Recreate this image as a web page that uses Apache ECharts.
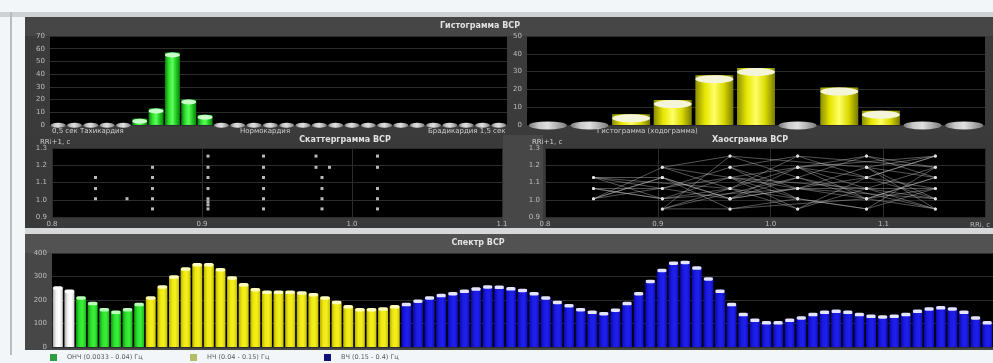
<!DOCTYPE html>
<html>
<head>
<meta charset="utf-8">
<title>Анализ ВСР</title>
<script src="https://cdn.jsdelivr.net/npm/echarts@6/dist/echarts.min.js"></script>
<style>
html,body{margin:0;padding:0;background:#f3f6f8;}
#chart{width:993px;height:363px;}
</style>
</head>
<body>
<div id="chart"></div>
<script>
// ---------- Гистограмма ВСР (слева): интервалы RR, мс
const histLeftBins = ['500','536','571','607','643','679','714','750','786','821','857','893','929','964',
  '1000','1036','1071','1107','1143','1179','1214','1250','1286','1321','1357','1393','1429','1464'];
const histLeftCounts = [0,0,0,0,0,5,13,57,20,8,0,0,0,0,0,0,0,0,0,0,0,0,0,0,0,0,0,0];
const histLeftYTicks = [0,10,20,30,40,50,60,70];
const histLeftNotes = ['0,5 сек Тахикардия','Нормокардия','Брадикардия 1,5 сек'];

// ---------- Гистограмма ВСР (справа)
const histRightBins = ['800','840','880','920','960','1000','1040','1080','1120','1160','1200'];
const histRightCounts = [0,0,6,14,28,32,0,21,8,0,0];
const histRightYTicks = [0,10,20,30,40,50];

// ---------- Скаттерграмма ВСР: пары [RRi, RRi+1], с
const scatterPoints = [
  [0.829,1.129],[0.829,1.065],[0.829,1.006],
  [0.850,1.006],
  [0.867,1.188],[0.867,1.129],[0.867,1.065],[0.867,1.006],[0.867,0.947],
  [0.904,1.253],[0.904,1.188],[0.904,1.129],[0.904,1.065],[0.904,1.006],[0.904,0.988],[0.904,0.970],[0.904,0.947],
  [0.941,1.253],[0.941,1.188],[0.941,1.129],[0.941,1.065],[0.941,1.006],[0.941,0.947],
  [0.976,1.253],[0.976,1.188],[0.985,1.188],[0.980,1.129],[0.980,1.065],[0.980,1.006],[0.980,0.947],
  [1.017,1.253],[1.017,1.188],[1.017,1.065],[1.017,1.006],[1.017,0.947]
];
const scatterXTicks = [0.8,0.9,1.0,1.1];
const scatterYTicks = [0.9,1.0,1.1,1.2,1.3];

// ---------- Хаосграмма ВСР: последовательность точек
const chaosPath = [
  [0.843,1.065],[0.904,1.006],[0.964,1.129],[1.024,1.065],[1.085,1.188],[1.146,1.129],
  [1.085,1.006],[1.024,1.188],[0.964,1.006],[0.904,1.129],[0.843,1.006],[0.904,1.188],
  [0.964,1.253],[1.024,1.129],[1.085,1.253],[1.146,1.188],[1.085,1.065],[1.024,0.947],
  [0.964,1.065],[0.904,0.947],[0.964,0.947],[1.024,1.006],[1.085,0.947],[1.146,1.065],
  [1.085,1.129],[1.024,1.253],[0.964,1.188],[0.904,1.065],[0.843,1.129],[0.904,1.129],
  [0.964,1.006],[1.024,1.129],[1.085,1.006],[1.146,0.947],[1.085,1.188],[1.146,1.253],
  [1.085,1.129],[1.146,1.006],[1.085,1.065],[1.024,1.188],[0.964,1.129],[1.024,1.006],
  [0.964,1.065],[0.904,1.006],[0.843,1.065],[0.904,1.065],[0.964,1.006],[1.024,1.065],
  [1.085,1.006],[1.146,1.129],[1.085,1.253],[1.024,1.188],[1.085,1.129],[1.024,0.947],
  [0.964,1.129],[0.904,1.188],[0.964,1.065],[1.024,1.253],[1.146,1.188],[1.085,0.947],
  [1.024,1.006],[0.964,1.188],[1.024,1.065],[1.146,1.065],[1.085,1.006],[0.964,0.947],
  [0.904,1.129],[0.843,1.006],[0.964,1.129],[1.085,1.065],[1.146,0.947],[1.024,1.129],
  [0.904,0.947],[0.964,1.253],[1.085,1.188],[1.146,1.006],[1.024,1.065],[0.904,1.006],
  [0.843,1.129],[0.964,1.065],[1.024,1.188],[1.146,1.253],[1.085,1.129],[0.964,1.006]
];
const chaosXTicks = [0.8,0.9,1.0,1.1];
const chaosXMax = 1.19;

// ---------- Спектр ВСР: мощность по полосам
const spectrumUlf = [254,240];
const spectrumVlf = [212,188,162,151,162,184];
const spectrumLf = [212,259,301,335,353,353,332,297,268,247,236,236,236,233,226,212,193,174,162,162,165,174];
const spectrumHf = [184,198,212,222,230,240,250,259,257,251,244,230,212,193,179,162,151,145,160,188,
  230,282,329,360,363,339,293,240,184,141,117,106,106,117,127,141,151,155,151,141,
  134,131,134,141,155,165,170,165,151,127,106];
const spectrumYTicks = [0,100,200,300,400];
const bandNames = ['ОНЧ (0.0033 - 0.04) Гц','НЧ (0.04 - 0.15) Гц','ВЧ (0.15 - 0.4) Гц'];

// ---------- вспомогательное
const FONT = 'DejaVu Sans, Verdana, sans-serif';
const LABEL = '#bdbdbd';
const SPLIT = '#2c2c2c';

function hGrad(stops) {
  return { type: 'linear', x: 0, y: 0, x2: 1, y2: 0,
    colorStops: stops.map((c, i) => ({ offset: i / (stops.length - 1), color: c })) };
}
const greenCyl = hGrad(['#0b7a0b','#2fe02f','#5cff5c','#20c820','#0a800a']);
const yellowCyl = hGrad(['#8c8c00','#e6e600','#ffff66','#d9d900','#7a7a00']);
const grayCap = hGrad(['#7a7a7a','#c8c8c8','#e0e0e0','#b0b0b0','#7a7a7a']);

function yAxisCfg(grid, ticks, digits) {
  return {
    type: 'value', gridIndex: grid,
    min: ticks[0], max: ticks[ticks.length - 1], interval: ticks[1] - ticks[0],
    axisLine: { show: false }, axisTick: { show: false },
    splitLine: { show: true, lineStyle: { color: SPLIT, width: 1 } },
    axisLabel: { color: LABEL, fontSize: 7, fontFamily: FONT, margin: 5,
      formatter: v => digits ? v.toFixed(digits) : String(v) }
  };
}
function catAxis(grid, data) {
  return { type: 'category', gridIndex: grid, data: data,
    axisLine: { show: false }, axisTick: { show: false }, axisLabel: { show: false },
    splitLine: { show: false } };
}
function valXAxis(grid, ticks, max) {
  return {
    type: 'value', gridIndex: grid,
    min: ticks[0], max: max, interval: ticks[1] - ticks[0],
    axisLine: { show: false }, axisTick: { show: false },
    splitLine: { show: true, lineStyle: { color: SPLIT } },
    axisLabel: { color: LABEL, fontSize: 7, fontFamily: FONT, margin: 4,
      showMaxLabel: max === ticks[ticks.length - 1],
      formatter: v => v.toFixed(1) }
  };
}

// колонки гистограмм: корпус + верхняя крышка
function histSeries(axis, counts, barW, capH, body, capColor) {
  return [
    { type: 'bar', xAxisIndex: axis, yAxisIndex: axis, data: counts, barWidth: barW,
      itemStyle: { color: body }, z: 3, silent: true },
    { type: 'pictorialBar', xAxisIndex: axis, yAxisIndex: axis, symbol: 'circle',
      symbolPosition: 'end', z: 4, silent: true,
      data: counts.map(v => ({
        value: v,
        symbolSize: [barW, capH],
        symbolOffset: v === 0 ? [0, '-45%'] : [0, 0],
        itemStyle: { color: v === 0 ? grayCap : capColor }
      })) }
  ];
}

// полосы спектра на общей оси частот
const spectrumAll = spectrumUlf.concat(spectrumVlf, spectrumLf, spectrumHf);
const spectrumCats = spectrumAll.map((_, i) => String(i + 1));
const bands = [
  { name: 'УНЧ', values: spectrumUlf, body: hGrad(['#a8a8a8','#f4f4f4','#ffffff','#d0d0d0']), cap: '#ffffff' },
  { name: bandNames[0], values: spectrumVlf, body: hGrad(['#0c9a0c','#30e030','#3cf03c','#18b818']), cap: '#b8ffb8' },
  { name: bandNames[1], values: spectrumLf, body: hGrad(['#b8b000','#f0ea10','#f4ee20','#c8c000']), cap: '#fffcc0' },
  { name: bandNames[2], values: spectrumHf, body: hGrad(['#0808b0','#1a1ae0','#2020ee','#0c0cc0']), cap: '#e4e4ff' }
];
const bandOf = [];
bands.forEach((b, k) => b.values.forEach(() => bandOf.push(k)));
let offset = 0;
const spectrumSeries = bands.map(b => {
  const data = spectrumAll.map((_, i) => (i >= offset && i < offset + b.values.length) ? b.values[i - offset] : '-');
  offset += b.values.length;
  return { type: 'bar', name: b.name, xAxisIndex: 4, yAxisIndex: 4, data: data,
    barWidth: 10, barGap: '-100%', itemStyle: { color: b.body }, z: 3, silent: true };
});
spectrumSeries.push({
  type: 'pictorialBar', xAxisIndex: 4, yAxisIndex: 4, symbol: 'roundRect',
  symbolPosition: 'end', symbolSize: [9, 3.5], symbolOffset: [0, -1], z: 5, silent: true,
  data: spectrumAll.map((v, i) => ({ value: v, itemStyle: { color: bands[bandOf[i]].cap } }))
});

const legendColors = ['#2f9c3f', '#b4bc66', '#12127a'];
const legendLeft = [50, 190, 324];
const legends = bandNames.map((n, i) => ({
  left: legendLeft[i], top: 354, padding: 0, itemWidth: 7, itemHeight: 7, icon: 'rect',
  selectedMode: false,
  data: [{ name: n, itemStyle: { color: legendColors[i] } }],
  textStyle: { fontSize: 6.5, fontFamily: FONT, color: '#5a5a5a', padding: [0, 0, 0, 5] }
}));

function txt(x, y, s, opts) {
  return Object.assign({ type: 'text', x: x, y: y, z: 50, silent: true,
    style: Object.assign({ text: s, fill: '#cfcfcf', font: '7px ' + FONT, textVerticalAlign: 'middle' }, opts || {}) });
}
function rect(x, y, w, h, fill) {
  return { type: 'rect', shape: { x: x, y: y, width: w, height: h }, style: { fill: fill }, z: -100, silent: true };
}

const chart = echarts.init(document.getElementById('chart'), null, { renderer: 'canvas' });
chart.setOption({
  animation: false,
  backgroundColor: '#f3f6f8',
  graphic: [
    rect(0, 12, 993, 5, '#cdd1d4'),
    rect(10, 12, 2, 343, '#b8bcbf'),
    rect(25, 17, 968, 118, '#3b3b3b'),
    rect(25, 17, 968, 19, '#464646'),
    rect(25, 135, 968, 93, '#3a3a3a'),
    rect(503, 135, 40, 93, '#474747'),
    rect(25, 228, 968, 6, '#d6d8da'),
    rect(25, 234, 968, 116, '#474747'),
    rect(25, 234, 968, 19, '#525252'),
    txt(52, 131, histLeftNotes[0]),
    txt(240, 131, histLeftNotes[1]),
    txt(428, 131, histLeftNotes[2]),
    txt(597, 131, 'Гистограмма (ходограмма)'),
    txt(40, 142, 'RRi+1, с'),
    txt(532, 142, 'RRi+1, с'),
    txt(990, 225, 'RRi, с', { textAlign: 'right', fill: LABEL })
  ],
  title: [
    { text: 'Гистограмма ВСР', left: 480, top: 22, textAlign: 'center', padding: 0,
      textStyle: { color: '#e2e2e2', fontSize: 8, fontWeight: 'bold', fontFamily: FONT } },
    { text: 'Скаттерграмма ВСР', left: 345, top: 136, textAlign: 'center', padding: 0,
      textStyle: { color: '#e2e2e2', fontSize: 8, fontWeight: 'bold', fontFamily: FONT } },
    { text: 'Хаосграмма ВСР', left: 750, top: 136, textAlign: 'center', padding: 0,
      textStyle: { color: '#e2e2e2', fontSize: 8, fontWeight: 'bold', fontFamily: FONT } },
    { text: 'Спектр ВСР', left: 478, top: 239, textAlign: 'center', padding: 0,
      textStyle: { color: '#e2e2e2', fontSize: 8, fontWeight: 'bold', fontFamily: FONT } }
  ],
  legend: legends,
  grid: [
    { left: 50, top: 36, width: 457, height: 89, show: true, backgroundColor: '#000', borderWidth: 0 },
    { left: 527, top: 36, width: 458, height: 89, show: true, backgroundColor: '#000', borderWidth: 0 },
    { left: 52, top: 148, width: 450, height: 69, show: true, backgroundColor: '#000', borderWidth: 0 },
    { left: 545, top: 148, width: 440, height: 69, show: true, backgroundColor: '#000', borderWidth: 0 },
    { left: 52, top: 253, width: 941, height: 94, show: true, backgroundColor: '#000', borderWidth: 0 }
  ],
  xAxis: [
    catAxis(0, histLeftBins),
    catAxis(1, histRightBins),
    valXAxis(2, scatterXTicks, scatterXTicks[scatterXTicks.length - 1]),
    valXAxis(3, chaosXTicks, chaosXMax),
    catAxis(4, spectrumCats)
  ],
  yAxis: [
    yAxisCfg(0, histLeftYTicks, 0),
    yAxisCfg(1, histRightYTicks, 0),
    yAxisCfg(2, scatterYTicks, 1),
    yAxisCfg(3, scatterYTicks, 1),
    yAxisCfg(4, spectrumYTicks, 0)
  ],
  series: [].concat(
    histSeries(0, histLeftCounts, 15, 5, greenCyl, '#c8ffc8'),
    histSeries(1, histRightCounts, 38, 8, yellowCyl, '#f4f4d8'),
    [{ type: 'scatter', xAxisIndex: 2, yAxisIndex: 2, data: scatterPoints, symbol: 'rect',
       symbolSize: 3, itemStyle: { color: '#e6e6e6' }, silent: true, z: 4 },
     { type: 'line', xAxisIndex: 3, yAxisIndex: 3, data: chaosPath, symbol: 'circle', symbolSize: 3,
       showSymbol: true, itemStyle: { color: '#e0e0e0' },
       lineStyle: { color: 'rgba(200,200,200,0.6)', width: 0.7 }, silent: true, z: 4 }],
    spectrumSeries
  )
});
</script>
</body>
</html>
